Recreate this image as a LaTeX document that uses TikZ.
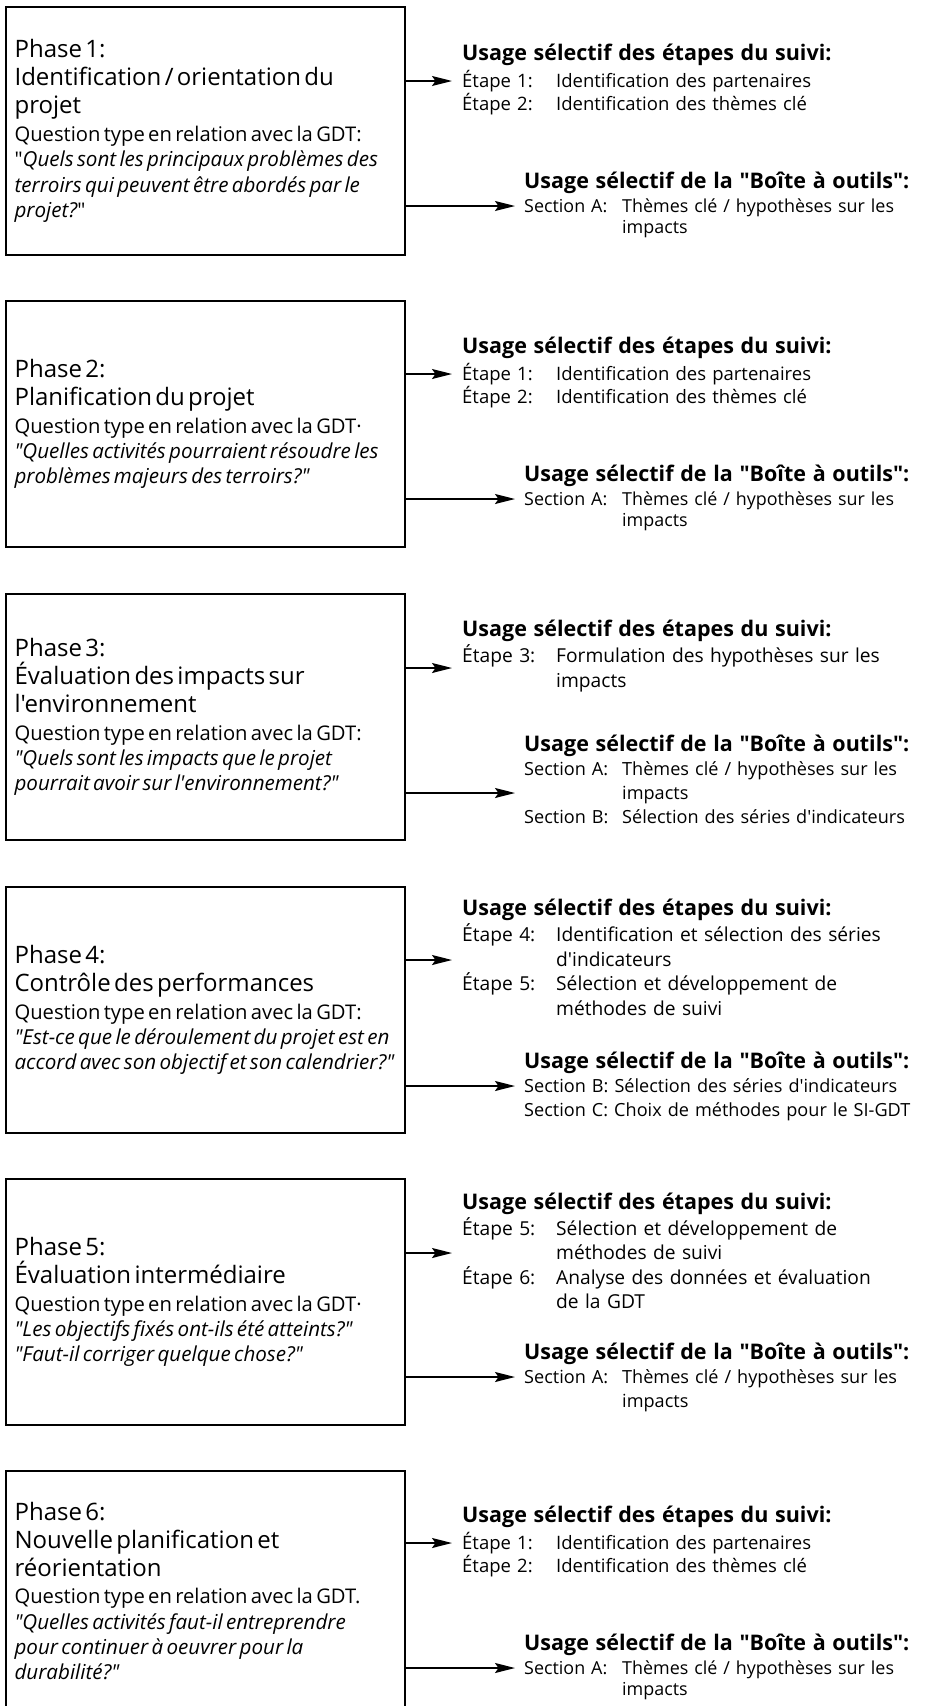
\documentclass[tikz,border=0pt]{standalone}
\usepackage{fontspec}
\setmainfont{Open Sans}[Ligatures=TeXOff, WordSpace=1.2]
\usetikzlibrary{arrows.meta}

% fonts used in the phase boxes and in the lists on the right
\newcommand\phasetitlefont{\fontsize{24}{28}\selectfont}
\newcommand\phaseqfont{\fontsize{20.2}{25.3}\selectfont}
\newcommand\qitalic[1]{{\itshape\fontsize{20.6}{25.3}\selectfont #1}}
\newcommand\tightfont{\fontsize{18.5}{20.5}\selectfont}
\newcommand\loosefont{\fontsize{19.2}{24.5}\selectfont}
\newcommand\sectfont{\fontsize{17.9}{21}\selectfont}
\newcommand\sectloosefont{\fontsize{18.1}{24}\selectfont}

% label of a list line, and indent of its continuation lines
\newcommand\tablabel[2][94pt]{\makebox[#1][l]{#2}}
\newcommand\tabcont[1][94pt]{\hspace*{#1}}

\tikzset{
  phasebox/.style={draw, line width=1.25pt, minimum width=399pt, inner sep=0pt},
  phasetext/.style={anchor=west, inner sep=0pt, text width=395pt, align=left},
  headline/.style={anchor=base west, inner sep=0pt, font=\bfseries\fontsize{21.5}{24}\selectfont},
  itemlines/.style={anchor=base west, inner sep=0pt, text width=420pt, align=left},
  link/.style={line width=1.6pt, -{Stealth[length=20pt,width=10pt,inset=3.5pt]}},
}

% right-hand lists shared by phases 1, 2 and 6
\newcommand\usualright[2]{%
  \node[headline] (#1h1) at (462,53.5+#2) {Usage sélectif des étapes du suivi:};
  \node[itemlines, font=\tightfont] (#1st) at (462,80.5+#2)
    {\tablabel{Étape 1:}Identification des partenaires\\
     \tablabel{Étape 2:}Identification des thèmes clé};
  \node[headline] (#1h2) at (524,181.5+#2) {Usage sélectif de la "Boîte à outils":};
  \node[itemlines, font=\sectfont] (#1se) at (524,205.5+#2)
    {\tablabel[98pt]{Section A:}Thèmes clé / hypothèses sur les\\
     \tabcont[98pt]impacts};
  \coordinate (#1ua) at (452,74+#2);
  \coordinate (#1la) at (515,199+#2);
  \draw[link] (#1box.east |- #1ua) -- (#1ua);
  \draw[link] (#1box.east |- #1la) -- (#1la);
}

\begin{document}
\begin{tikzpicture}[x=1pt,y=-1pt]
\useasboundingbox (0,0) rectangle (926,1706);
\clip (0,0) rectangle (926,1706);

% ---------------- Phase 1
\begin{scope}[shift={(0,7)}]
  \node[phasebox, minimum height=248pt] (p1box) at (205.5,124) {};
  \node[phasetext] (p1txt) at ([xshift=9pt]p1box.west)
    {{\phasetitlefont Phase 1:\\Identification / orientation du\\projet\par}\vspace{2.5pt}%
     {\phaseqfont Question type en relation avec la GDT:\\
      "\qitalic{Quels sont les principaux problèmes des}\\
      \qitalic{terroirs qui peuvent être abordés par le}\\
      \qitalic{projet?}"\par}};
  \usualright{p1}{0}
\end{scope}

% ---------------- Phase 2
\begin{scope}[shift={(0,301)}]
  \node[phasebox, minimum height=246pt] (p2box) at (205.5,123) {};
  \node[phasetext] (p2txt) at ([xshift=9pt]p2box.west)
    {{\phasetitlefont Phase 2:\\Planification du projet\par}\vspace{2.5pt}%
     {\phaseqfont Question type en relation avec la GDT·\\
      \qitalic{"Quelles activités pourraient résoudre les}\\
      \qitalic{problèmes majeurs des terroirs?"}\par}};
  \usualright{p2}{-1}
\end{scope}

% ---------------- Phase 3
\begin{scope}[shift={(0,594)}]
  \node[phasebox, minimum height=246pt] (p3box) at (205.5,123) {};
  \node[phasetext] (p3txt) at ([xshift=9pt]p3box.west)
    {{\phasetitlefont Phase 3:\\Évaluation des impacts sur\\l'environnement\par}\vspace{2.5pt}%
     {\phaseqfont Question type en relation avec la GDT:\\
      \qitalic{"Quels sont les impacts que le projet}\\
      \qitalic{pourrait avoir sur l'environnement?"}\par}};
  \node[headline] (p3h1) at (462,42.5) {Usage sélectif des étapes du suivi:};
  \node[itemlines, font=\loosefont] (p3st) at (462,68.5)
    {\tablabel{Étape 3:}Formulation des hypothèses sur les\\
     \tabcont impacts};
  \node[headline] (p3h2) at (524,157) {Usage sélectif de la "Boîte à outils":};
  \node[itemlines, font=\sectloosefont] (p3se) at (524,181.5)
    {\tablabel[98pt]{Section A:}Thèmes clé / hypothèses sur les\\
     \tabcont[98pt]impacts\\
     \tablabel[98pt]{Section B:}Sélection des séries d'indicateurs};
  \coordinate (p3ua) at (452,74);
  \coordinate (p3la) at (515,199);
  \draw[link] (p3box.east |- p3ua) -- (p3ua);
  \draw[link] (p3box.east |- p3la) -- (p3la);
\end{scope}

% ---------------- Phase 4
\begin{scope}[shift={(0,887)}]
  \node[phasebox, minimum height=246pt] (p4box) at (205.5,123) {};
  \node[phasetext] (p4txt) at ([xshift=9pt]p4box.west)
    {{\phasetitlefont Phase 4:\\Contrôle des performances\par}\vspace{2.5pt}%
     {\phaseqfont Question type en relation avec la GDT:\\
      \qitalic{"Est-ce que le déroulement du projet est en}\\
      \qitalic{accord avec son objectif et son calendrier?"}\par}};
  \node[headline] (p4h1) at (462,28.5) {Usage sélectif des étapes du suivi:};
  \node[itemlines, font=\loosefont] (p4st) at (462,54.5)
    {\tablabel{Étape 4:}Identification et sélection des séries\\
     \tabcont d'indicateurs\\
     \tablabel{Étape 5:}Sélection et développement de\\
     \tabcont méthodes de suivi};
  \node[headline] (p4h2) at (524,181) {Usage sélectif de la "Boîte à outils":};
  \node[itemlines, font=\sectloosefont] (p4se) at (524,205.5)
    {Section B: Sélection des séries d'indicateurs\\
     Section C: Choix de méthodes pour le SI-GDT};
  \coordinate (p4ua) at (452,73);
  \coordinate (p4la) at (515,199);
  \draw[link] (p4box.east |- p4ua) -- (p4ua);
  \draw[link] (p4box.east |- p4la) -- (p4la);
\end{scope}

% ---------------- Phase 5
\begin{scope}[shift={(0,1179)}]
  \node[phasebox, minimum height=246pt] (p5box) at (205.5,123) {};
  \node[phasetext] (p5txt) at ([xshift=9pt]p5box.west)
    {{\phasetitlefont Phase 5:\\Évaluation intermédiaire\par}\vspace{2.5pt}%
     {\phaseqfont Question type en relation avec la GDT·\\
      \qitalic{"Les objectifs fixés ont-ils été atteints?"}\\
      \qitalic{"Faut-il corriger quelque chose?"}\par}};
  \node[headline] (p5h1) at (462,30) {Usage sélectif des étapes du suivi:};
  \node[itemlines, font=\loosefont] (p5st) at (462,56)
    {\tablabel{Étape 5:}Sélection et développement de\\
     \tabcont méthodes de suivi\\
     \tablabel{Étape 6:}Analyse des données et évaluation\\
     \tabcont de la GDT};
  \node[headline] (p5h2) at (524,180.5) {Usage sélectif de la "Boîte à outils":};
  \node[itemlines, font=\sectloosefont] (p5se) at (524,204.5)
    {\tablabel[98pt]{Section A:}Thèmes clé / hypothèses sur les\\
     \tabcont[98pt]impacts};
  \coordinate (p5ua) at (452,74);
  \coordinate (p5la) at (515,198);
  \draw[link] (p5box.east |- p5ua) -- (p5ua);
  \draw[link] (p5box.east |- p5la) -- (p5la);
\end{scope}

% ---------------- Phase 6 (box runs past the lower edge)
\begin{scope}[shift={(0,1471)}]
  \node[phasebox, minimum height=240pt] (p6box) at (205.5,120) {};
  \node[phasetext] (p6txt) at ([xshift=9pt]p6box.west)
    {{\phasetitlefont Phase 6:\\Nouvelle planification et\\réorientation\par}\vspace{2.5pt}%
     {\phaseqfont Question type en relation avec la GDT.\\
      \qitalic{"Quelles activités faut-il entreprendre}\\
      \qitalic{pour continuer à oeuvrer pour la}\\
      \qitalic{durabilité?"}\par}};
  \usualright{p6}{-2}
\end{scope}
\end{tikzpicture}
\end{document}
